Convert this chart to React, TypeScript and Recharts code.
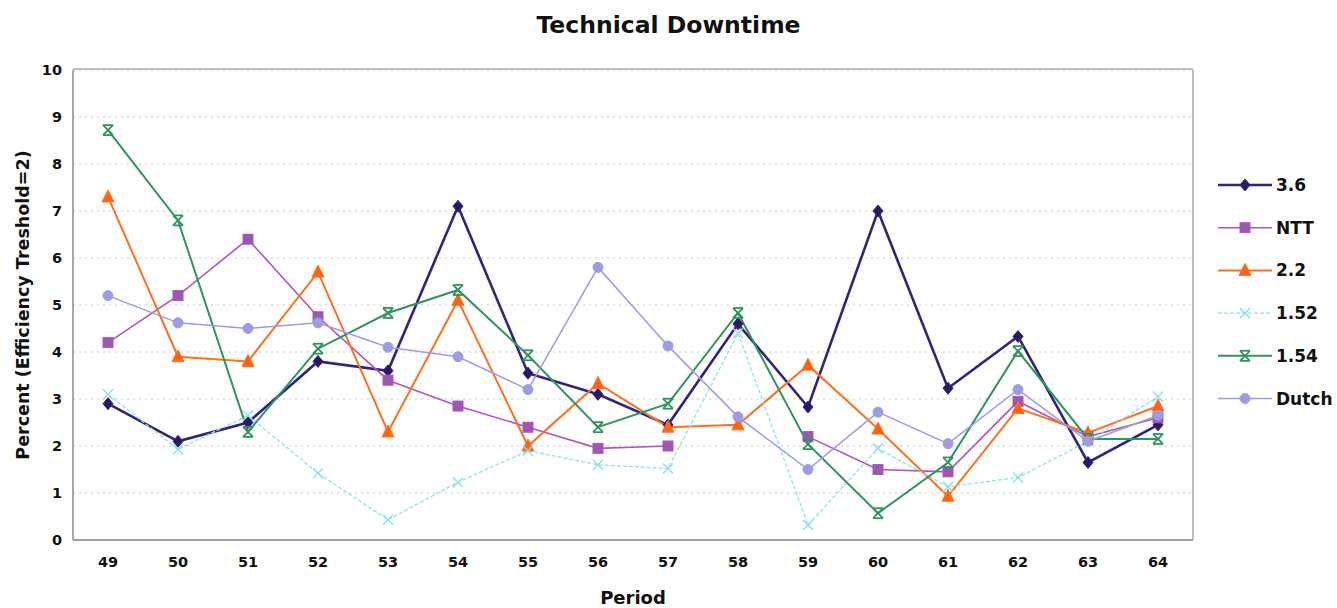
import React from 'react';
import { LineChart, Line, XAxis, YAxis, CartesianGrid, Legend } from 'recharts';

const periods = ['49', '50', '51', '52', '53', '54', '55', '56', '57', '58', '59', '60', '61', '62', '63', '64'];
const yTicks = [0, 1, 2, 3, 4, 5, 6, 7, 8, 9, 10];

const v36 = [2.9, 2.1, 2.5, 3.8, 3.6, 7.1, 3.55, 3.1, 2.45, 4.6, 2.83, 7.0, 3.23, 4.33, 1.65, 2.45];
const vNTT = [4.2, 5.2, 6.4, 4.75, 3.4, 2.85, 2.4, 1.95, 2.0, null, 2.2, 1.5, 1.45, 2.95, 2.2, 2.6];
const v22 = [7.3, 3.9, 3.8, 5.7, 2.3, 5.1, 2.0, 3.33, 2.4, 2.45, 3.72, 2.36, 0.93, 2.8, 2.28, 2.85];
const v152 = [3.1, 1.93, 2.65, 1.42, 0.43, 1.23, 1.9, 1.6, 1.52, 4.4, 0.32, 1.95, 1.13, 1.33, 2.1, 3.05];
const v154 = [8.72, 6.8, 2.3, 4.07, 4.83, 5.32, 3.93, 2.4, 2.9, 4.83, 2.04, 0.57, 1.65, 4.02, 2.15, 2.15];
const vDutch = [5.2, 4.62, 4.5, 4.62, 4.1, 3.9, 3.2, 5.8, 4.13, 2.62, 1.5, 2.72, 2.05, 3.2, 2.1, 2.65];

type Kind = 'diamond' | 'square' | 'triangle' | 'x' | 'star' | 'circle';

const series: { key: string; name: string; color: string; fill: string; width: number; dash?: string; kind: Kind; values: (number | null)[] }[] = [
  { key: 's36', name: '3.6', color: '#34237a', fill: '#2a1866', width: 2.6, kind: 'diamond', values: v36 },
  { key: 'ntt', name: 'NTT', color: '#b055c0', fill: '#9a58b0', width: 1.6, kind: 'square', values: vNTT },
  { key: 's22', name: '2.2', color: '#ff7020', fill: '#ff6410', width: 2, kind: 'triangle', values: v22 },
  { key: 's152', name: '1.52', color: '#8fe2ea', fill: '#8fe2ea', width: 1.3, dash: '4 2', kind: 'x', values: v152 },
  { key: 's154', name: '1.54', color: '#2f9560', fill: '#2f9560', width: 2, kind: 'star', values: v154 },
  { key: 'dutch', name: 'Dutch', color: '#9c9ce0', fill: '#9c9ce0', width: 1.5, kind: 'circle', values: vDutch },
];

const data = periods.map((p, i) => {
  const row: Record<string, string | number | null> = { period: p };
  series.forEach((s) => (row[s.key] = s.values[i]));
  return row;
});

const font = '"DejaVu Sans", Verdana, sans-serif';

function Marker({ kind, cx, cy, color, fill }: { kind: Kind; cx: number; cy: number; color: string; fill: string }) {
  switch (kind) {
    case 'diamond':
      return <polygon points={`${cx},${cy - 6} ${cx + 5},${cy} ${cx},${cy + 6} ${cx - 5},${cy}`} fill={fill} stroke={color} strokeWidth={1} />;
    case 'square':
      return <rect x={cx - 5} y={cy - 5} width={10} height={10} fill={fill} stroke={color} strokeWidth={1} />;
    case 'triangle':
      return <polygon points={`${cx},${cy - 7} ${cx + 6},${cy + 5} ${cx - 6},${cy + 5}`} fill={fill} stroke={color} strokeWidth={1} />;
    case 'x':
      return (
        <g stroke={color} strokeWidth={1.5}>
          <line x1={cx - 5} y1={cy - 5} x2={cx + 5} y2={cy + 5} />
          <line x1={cx - 5} y1={cy + 5} x2={cx + 5} y2={cy - 5} />
        </g>
      );
    case 'star':
      return (
        <g stroke={color} strokeWidth={1.8}>
          <line x1={cx - 5} y1={cy - 5} x2={cx + 5} y2={cy + 5} />
          <line x1={cx - 5} y1={cy + 5} x2={cx + 5} y2={cy - 5} />
          <line x1={cx - 5} y1={cy - 5} x2={cx + 5} y2={cy - 5} />
          <line x1={cx - 5} y1={cy + 5} x2={cx + 5} y2={cy + 5} />
        </g>
      );
    default:
      return <circle cx={cx} cy={cy} r={5} fill={fill} stroke={color} strokeWidth={1} />;
  }
}

function LegendBox() {
  return (
    <svg width={127} height={250}>
      {series.map((s, i) => {
        const y = 21 + i * 42.7;
        return (
          <g key={s.key}>
            <line x1={8} y1={y} x2={62} y2={y} stroke={s.color} strokeWidth={s.width} strokeDasharray={s.dash} />
            <Marker kind={s.kind} cx={35} cy={y} color={s.color} fill={s.fill} />
            <text x={66} y={y + 6} fontSize={17} fontWeight="bold" fill="#111" fontFamily={font}>
              {s.name}
            </text>
          </g>
        );
      })}
    </svg>
  );
}

export default function App() {
  return (
    <div style={{ position: 'absolute', left: 0, top: 0, width: 1337, height: 608, background: '#fff', fontFamily: font }}>
      <div style={{ position: 'absolute', top: 11, left: 0, width: 1337, textAlign: 'center', fontSize: 23.5, fontWeight: 'bold', color: '#111', lineHeight: '28px' }}>
        Technical Downtime
      </div>
      <LineChart width={1337} height={608} data={data} margin={{ top: 70, right: 17, bottom: 0, left: 0 }}>
        <CartesianGrid vertical={false} stroke="#c8c8c8" strokeDasharray="2 4" />
        <CartesianGrid
          stroke="#a8a8a8"
          strokeWidth={1.5}
          horizontalCoordinatesGenerator={({ offset }: any) => [offset.top - 1, offset.top + offset.height]}
          verticalCoordinatesGenerator={({ offset }: any) => [offset.left, offset.left + offset.width]}
        />
        <XAxis
          dataKey="period"
          height={68}
          padding={{ left: 35, right: 35 }}
          axisLine={{ stroke: '#a0a0a0', strokeWidth: 2 }}
          tickLine={false}
          tickMargin={11}
          tick={{ fontSize: 14.5, fontWeight: 'bold', fill: '#111', fontFamily: font }}
          label={{ value: 'Period', position: 'insideBottom', offset: 4, style: { fontSize: 18, fontWeight: 'bold', fill: '#111', fontFamily: font } }}
        />
        <YAxis
          width={73}
          domain={[0, 10]}
          ticks={yTicks}
          interval={0}
          axisLine={{ stroke: '#a0a0a0', strokeWidth: 1.5 }}
          tickLine={false}
          tickSize={6}
          tickMargin={5}
          tick={{ fontSize: 14.5, fontWeight: 'bold', fill: '#111', fontFamily: font }}
          label={{ value: 'Percent (Efficiency Treshold=2)', angle: -90, position: 'insideLeft', offset: 23, style: { textAnchor: 'middle', fontSize: 17.5, fontWeight: 'bold', fill: '#111', fontFamily: font } }}
        />
        <Legend layout="vertical" align="right" verticalAlign="top" width={127} wrapperStyle={{ top: 164, right: 0 }} content={() => <LegendBox />} />
        {series.map((s) => (
          <Line
            key={s.key}
            dataKey={s.key}
            name={s.name}
            stroke={s.color}
            strokeWidth={s.width}
            strokeDasharray={s.dash}
            isAnimationActive={false}
            dot={(p: any) =>
              p.cx == null || p.cy == null || p.value == null ? (
                <g key={`${s.key}-${p.index}`} />
              ) : (
                <g key={`${s.key}-${p.index}`}>
                  <Marker kind={s.kind} cx={p.cx} cy={p.cy} color={s.color} fill={s.fill} />
                </g>
              )
            }
            activeDot={false}
          />
        ))}
      </LineChart>
    </div>
  );
}
